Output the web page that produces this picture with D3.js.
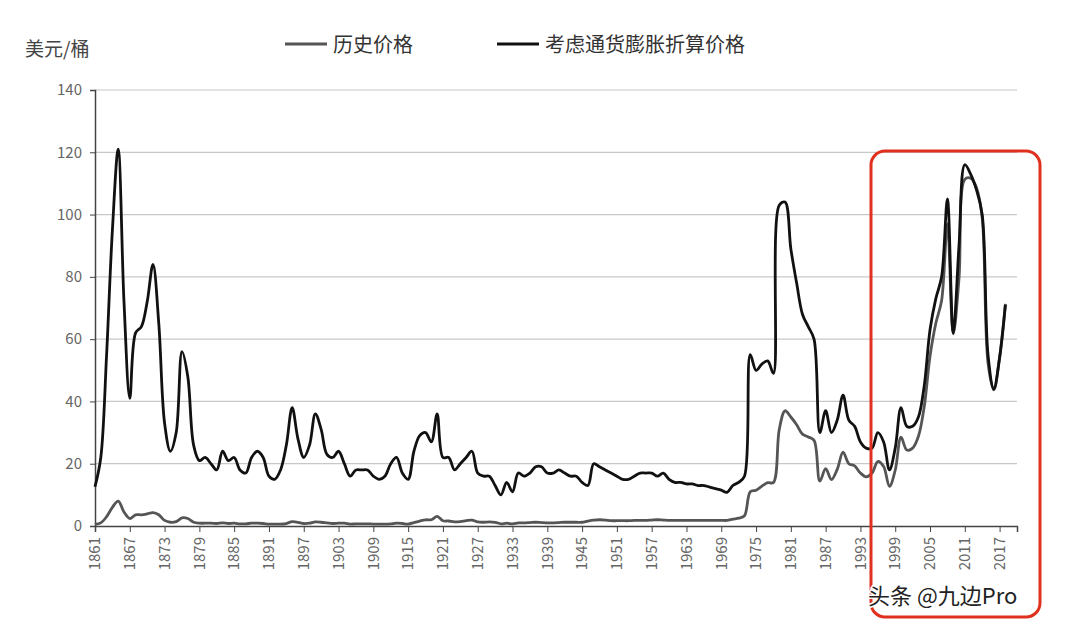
<!DOCTYPE html>
<html>
<head>
<meta charset="utf-8">
<script src="https://cdn.jsdelivr.net/npm/d3@7"></script>
<style>
  body { margin: 0; background: #fff; }
  text { font-family: "Noto Sans CJK SC", "DejaVu Sans", sans-serif; }
</style>
</head>
<body>
<script>
const startYear = 1861
const realPrice = [
  12.6, 22, 55, 95, 121, 72, 41, 62, 64, 72, 84, 65, 33, 24, 30, 56, 48, 26, 21, 22,
  20, 18, 24, 21, 22, 18, 17, 22, 24, 22, 16, 15, 18, 26, 38, 28, 22, 26, 36, 31,
  23, 22, 24, 20, 16, 18, 18, 18, 16, 15, 16, 20, 22, 17, 15, 24, 29, 30, 27, 36,
  22, 22, 18, 20, 22, 24, 17, 16, 16, 13, 10, 14, 11, 17, 16, 17, 19, 19, 17, 17,
  18, 17, 16, 16, 14, 13, 20, 19, 18, 17, 16, 15, 15, 16, 17, 17, 17, 16, 17, 15,
  14, 14, 13.5, 13.5, 13, 13, 12.5, 12, 11.5, 10.8, 13, 14, 16, 55, 50, 52, 53, 49, 103, 104,
  89, 78, 68, 64, 60, 30, 37, 30, 34, 42, 34, 32, 27, 25, 25, 30, 27, 18, 25, 38,
  32, 32, 35, 45, 63, 73, 80, 105, 62, 90, 116, 113, 108, 100, 55, 44, 54, 71
]
const nominalPrice = [
  0.5, 1, 3, 6, 8, 4.5, 2.4, 3.6, 3.6, 3.9, 4.3, 3.6, 1.8, 1.2, 1.4, 2.6, 2.4, 1.2, 0.9, 0.9,
  0.9, 0.8, 1, 0.8, 0.9, 0.7, 0.7, 0.9, 0.9, 0.8, 0.6, 0.6, 0.6, 0.8, 1.4, 1.2, 0.8, 0.9, 1.3, 1.2,
  1, 0.8, 0.9, 0.9, 0.6, 0.7, 0.7, 0.7, 0.6, 0.6, 0.6, 0.7, 0.9, 0.8, 0.6, 1.1, 1.6, 2, 2, 3.1,
  1.7, 1.6, 1.3, 1.4, 1.7, 1.9, 1.3, 1.2, 1.3, 1.2, 0.7, 0.9, 0.7, 1, 1, 1.1, 1.2, 1.1, 1, 1,
  1.1, 1.2, 1.2, 1.2, 1.2, 1.6, 1.9, 2, 1.9, 1.7, 1.7, 1.7, 1.7, 1.8, 1.8, 1.8, 1.9, 2, 1.9, 1.8,
  1.8, 1.8, 1.8, 1.8, 1.8, 1.8, 1.8, 1.8, 1.8, 1.8, 2.2, 2.5, 3.3, 11, 11.5, 12.8, 13.9, 14, 31, 37,
  35, 32.5, 29.5, 28.6, 27.5, 14.4, 18.4, 14.9, 18.2, 23.7, 20, 19.3, 17, 15.8, 17, 20.7, 19.1, 12.7, 17.9, 28.5,
  24.4, 25, 28.8, 38.3, 54.5, 65.1, 72.4, 97, 61.7, 79.5, 111.3, 111.7, 108.7, 98.9, 52.4, 43.7, 54.2, 71.3
]
const yTicks = [0, 20, 40, 60, 80, 100, 120, 140]
const xTickYears = d3.range(1861, 2018, 6)
const seriesNames = ['历史价格', '考虑通货膨胀折算价格']
const unitLabel = '美元/桶'

const width = 1080
const height = 625

const svg = d3.select('body')
  .append('svg')
  .attr('width', width)
  .attr('height', height)

const x = d3.scaleLinear()
  .domain([1861, 2020])
  .range([95, 1017])

const y = d3.scaleLinear()
  .domain([0, 140])
  .range([526, 90])

// grid + y axis
svg.append('g')
  .selectAll('line')
  .data(yTicks.filter(d => d > 0))
  .join('line')
  .attr('x1', 95)
  .attr('x2', 1017)
  .attr('y1', d => y(d))
  .attr('y2', d => y(d))
  .attr('stroke', '#c8c8c8')
  .attr('stroke-width', 1.2)

const yAxis = svg.append('g')
  .attr('transform', 'translate(95,0)')
  .call(d3.axisLeft(y).tickValues(yTicks).tickSize(5).tickPadding(8))
yAxis.select('.domain').attr('stroke', '#444').attr('stroke-width', 1.5)
yAxis.selectAll('line').attr('stroke', '#444')
yAxis.selectAll('text')
  .attr('font-family', 'DejaVu Sans')
  .attr('font-size', 15)
  .attr('fill', '#666')

const xAxis = svg.append('g')
  .attr('transform', 'translate(0,526)')
  .call(d3.axisBottom(x).tickValues(xTickYears).tickSize(6).tickFormat(''))
xAxis.select('.domain').attr('stroke', '#444').attr('stroke-width', 1.5)
xAxis.selectAll('line').attr('stroke', '#444')

// rotated year labels
svg.append('g')
  .selectAll('text')
  .data(xTickYears)
  .join('text')
  .attr('transform', d => `translate(${x(d)},537) rotate(-90)`)
  .attr('text-anchor', 'end')
  .attr('dy', '0.35em')
  .attr('font-family', 'DejaVu Sans')
  .attr('font-size', 15)
  .attr('fill', '#666')
  .text(d => d)

const line = d3.line()
  .x((d, i) => x(startYear + i))
  .y(d => y(d))
  .curve(d3.curveCatmullRom)

svg.append('path')
  .datum(nominalPrice)
  .attr('d', line)
  .attr('fill', 'none')
  .attr('stroke', '#555')
  .attr('stroke-width', 2.8)

svg.append('path')
  .datum(realPrice)
  .attr('d', line)
  .attr('fill', 'none')
  .attr('stroke', '#111')
  .attr('stroke-width', 2.8)

// legend
const legend = [
  { name: seriesNames[0], color: '#555', x: 285 },
  { name: seriesNames[1], color: '#111', x: 497 }
]
legend.forEach(l => {
  svg.append('line')
    .attr('x1', l.x).attr('x2', l.x + 42)
    .attr('y1', 44).attr('y2', 44)
    .attr('stroke', l.color).attr('stroke-width', 2.8)
  svg.append('text')
    .attr('x', l.x + 48).attr('y', 52)
    .attr('font-size', 20)
    .attr('fill', '#333')
    .text(l.name)
})

svg.append('text')
  .attr('x', 25).attr('y', 56)
  .attr('font-size', 19)
  .attr('fill', '#444')
  .text(unitLabel)

// red highlight box
svg.append('rect')
  .attr('x', 871).attr('y', 151)
  .attr('width', 169).attr('height', 466)
  .attr('rx', 14)
  .attr('fill', 'none')
  .attr('stroke', '#e0301e')
  .attr('stroke-width', 3)

svg.append('text')
  .attr('x', 868).attr('y', 604)
  .attr('font-size', 22)
  .attr('fill', '#222')
  .attr('stroke', '#fff')
  .attr('stroke-width', 3)
  .attr('paint-order', 'stroke')
  .text('头条 @九边Pro')
</script>
</body>
</html>
